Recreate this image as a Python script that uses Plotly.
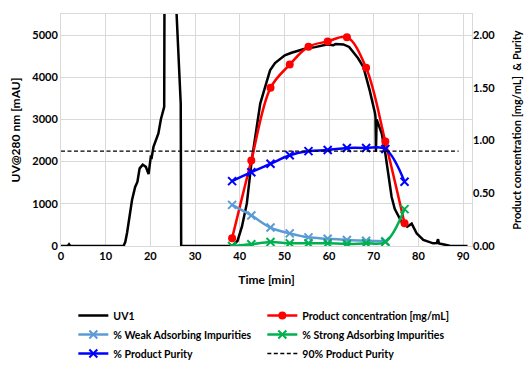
import plotly.graph_objects as go

# UV trace (time [min], mAU)
uv_t = [0, 1.5, 1.8, 2.1, 14.0, 14.4, 14.8, 15.3, 15.9, 16.6, 17.1, 17.6, 18.3, 19.0, 19.6,
        20.1, 20.3, 20.7, 21.3, 21.8, 22.35, 22.9, 23.1, 23.3, 26.7, 26.8, 26.9,
        37.5, 38.5, 39.5, 40.5, 41.6, 42.7, 43.8, 44.6, 45.7, 46.8, 47.9, 49.0, 50.1, 51.6,
        53.0, 54.6, 56.9, 59.5, 61.0, 61.5, 63.2, 64.5, 65.4, 66.5, 67.7, 69.1, 70.3, 70.4,
        70.5, 70.65, 71.0, 71.8, 72.6, 73.2, 74.0, 74.7, 75.5, 76.2, 77.5, 78.5, 79.6, 81.1,
        83.3, 84.1, 84.4, 84.6, 85.2, 87.0, 91.0]
uv_v = [0, 0, 40, 0, 0, 100, 320, 700, 1090, 1400, 1520, 1840, 1930, 1876, 1703,
        2112, 2100, 2350, 2508, 2666, 3000, 3200, 3300, 11400, 3376, 3376, 0,
        0, 20, 120, 457, 1010, 2035, 2823, 3376, 3770, 4164, 4337, 4430, 4519, 4582,
        4630, 4677, 4715, 4779, 4760, 4790, 4779, 4720, 4597, 4450, 4242, 3690, 3140, 3050,
        2230, 3000, 2900, 2666, 2193, 1720, 1167, 880, 700, 575, 457, 530, 300, 142,
        63, 70, 160, 60, 47, 5, 0]

# Fraction samples
frac_t = [38.3, 42.6, 46.9, 51.2, 55.4, 59.7, 64.0, 68.3, 72.6, 76.9]
conc = [0.073, 0.81, 1.50, 1.72, 1.89, 1.94, 1.98, 1.69, 0.99, 0.215]
weak = [0.39, 0.29, 0.175, 0.12, 0.082, 0.069, 0.057, 0.05, 0.045]
strong = [0.0, 0.016, 0.038, 0.026, 0.026, 0.026, 0.019, 0.026, 0.038, 0.35]
purity = [0.615, 0.70, 0.78, 0.86, 0.90, 0.91, 0.93, 0.93, 0.92, 0.61]

ref_t = [0, 89]
ref_v = [0.9, 0.9]

FONT = "Lato"
fig = go.Figure()
fig.add_trace(go.Scatter(x=uv_t, y=uv_v, mode="lines", name="UV1",
                         line=dict(color="black", width=2.5)))
fig.add_trace(go.Scatter(x=frac_t, y=conc, mode="lines+markers", name="Product concentration [mg/mL]",
                         yaxis="y2", line=dict(color="#ff0000", width=2.5, shape="spline"),
                         marker=dict(symbol="circle", size=8, color="#ff0000")))
fig.add_trace(go.Scatter(x=frac_t[:len(weak)], y=weak, mode="lines+markers", name="% Weak Adsorbing Impurities",
                         yaxis="y2", line=dict(color="#5b9bd5", width=2.5, shape="spline"),
                         marker=dict(symbol="x-thin", size=8, color="#5b9bd5",
                                     line=dict(width=2, color="#5b9bd5"))))
fig.add_trace(go.Scatter(x=frac_t, y=strong, mode="lines+markers", name="% Strong Adsorbing Impurities",
                         yaxis="y2", line=dict(color="#00b050", width=2.5, shape="spline"),
                         marker=dict(symbol="x-thin", size=8, color="#00b050",
                                     line=dict(width=2, color="#00b050"))))
fig.add_trace(go.Scatter(x=frac_t, y=purity, mode="lines+markers", name="% Product Purity",
                         yaxis="y2", line=dict(color="#0000ff", width=2.5, shape="spline"),
                         marker=dict(symbol="x-thin", size=8, color="#0000ff",
                                     line=dict(width=2, color="#0000ff"))))
fig.add_trace(go.Scatter(x=ref_t, y=ref_v, mode="lines", name="90% Product Purity",
                         yaxis="y2", line=dict(color="black", width=1.3, dash="4px,2.5px")))

fig.update_layout(
    width=524, height=362,
    margin=dict(l=53, r=60, t=6, b=124, autoexpand=False),
    paper_bgcolor="white", plot_bgcolor="white",
    font=dict(family=FONT, size=11, color="black", weight="bold"),
    showlegend=True,
    legend=dict(orientation="h", x=0.03, xanchor="left", y=-0.237, yanchor="top",
                entrywidth=144, entrywidthmode="pixels", itemwidth=30,
                font=dict(family=FONT, size=10.5, color="black", weight="bold"),
                tracegroupgap=0),
    xaxis=dict(range=[0, 92], tickvals=[0, 10, 20, 30, 40, 50, 60, 70, 80, 90],
               showgrid=True, gridcolor="#d9d9d9", gridwidth=1, zeroline=False,
               showline=True, linecolor="#d9d9d9", mirror=True, ticks="",
               title=dict(text="Time [min]", font=dict(family=FONT, size=12, weight="bold"), standoff=14),
               tickfont=dict(family=FONT, size=11, weight="bold")),
    yaxis=dict(range=[0, 5500], tickvals=[0, 1000, 2000, 3000, 4000, 5000],
               showgrid=True, gridcolor="#d9d9d9", gridwidth=1, zeroline=False,
               showline=True, linecolor="#d9d9d9", mirror=True, ticks="",
               title=dict(text="UV@280 nm [mAU]", font=dict(family=FONT, size=12, weight="bold"), standoff=10),
               tickfont=dict(family=FONT, size=11, weight="bold")),
    yaxis2=dict(range=[0, 2.2], tickvals=[0, 0.5, 1.0, 1.5, 2.0], tickformat=".2f",
                overlaying="y", side="right", showgrid=False, zeroline=False, ticks="",
                title=dict(text="Product concentration [mg/mL]  & Purity",
                           font=dict(family=FONT, size=11, weight="bold"), standoff=18),
                tickfont=dict(family=FONT, size=11, weight="bold")),
)

fig.write_html("out.html")
